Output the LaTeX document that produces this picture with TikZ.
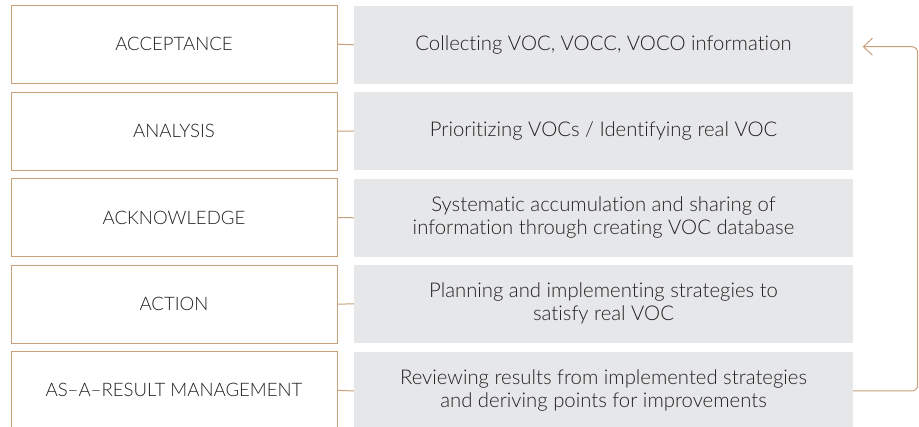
\documentclass[tikz,border=0pt]{standalone}
\usepackage{fontspec}
\setmainfont{Lato}[UprightFont=* Light,Ligatures=NoCommon]
\usetikzlibrary{arrows.meta}
\definecolor{tan}{HTML}{C8A07A}
\definecolor{graybox}{HTML}{E6E7E9}
\definecolor{ink}{HTML}{231F20}
\begin{document}
\begin{tikzpicture}[x=1pt,y=-1pt,
  stage/.style={draw=tan,line width=1pt,fill=white,minimum width=326pt,minimum height=78pt,inner sep=0pt,text=ink,font=\fontsize{18.6}{22}\selectfont},
  desc/.style={fill=graybox,minimum width=499pt,minimum height=78pt,inner sep=0pt,text=ink,align=center,font=\fontsize{20.3}{23}\selectfont},
  link/.style={draw=tan,line width=1pt},
  loop/.style={draw=tan,line width=1pt,rounded corners=6pt}]
\useasboundingbox (0,0) rectangle (919,427);
\node[stage] (s1) at (174,44.2) {ACCEPTANCE};
\node[stage] (s2) at (174,131.2) {ANALYSIS};
\node[stage] (s3) at (174,217.5) {ACKNOWLEDGE};
\node[stage] (s4) at (174,304.2) {ACTION};
\node[stage] (s5) at (174,390.3) {AS–A–RESULT MANAGEMENT};
\node[desc] (d1) at (603.5,44.8) {Collecting VOC, VOCC, VOCO information};
\node[desc] (d2) at (603.5,131) {Prioritizing VOCs / Identifying real VOC};
\node[desc] (d3) at (603.5,217.8) {Systematic accumulation and sharing of\\information through creating VOC database};
\node[desc] (d4) at (603.5,303.8) {Planning and implementing strategies to\\satisfy real VOC};
\node[desc] (d5) at (603.5,391) {Reviewing results from implemented strategies\\and deriving points for improvements};
\foreach \i in {1,...,5} \draw[link] (s\i.east) -- (d\i.west);
\coordinate (tip) at (862.7,46.7);
\draw[loop,-{Straight Barb[length=9pt,width=17pt,line width=1pt]}] (d5.east) -| (917.7,46.7) -- (tip);
\end{tikzpicture}
\end{document}
